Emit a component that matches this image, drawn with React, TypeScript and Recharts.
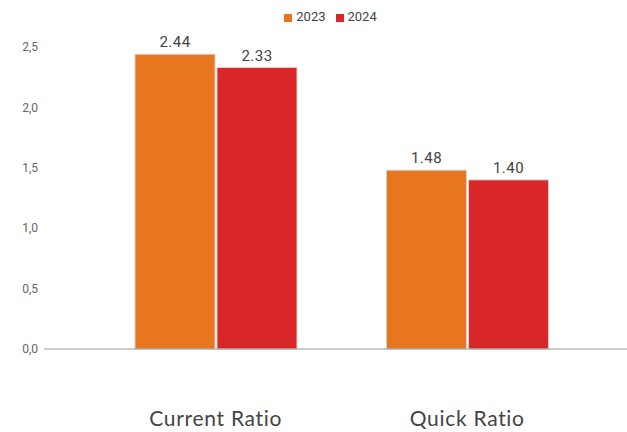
import React from "react";
import { BarChart, Bar, XAxis, YAxis, Legend, LabelList } from "recharts";

const categories = ["Current Ratio", "Quick Ratio"];
const values2023 = [2.44, 1.48];
const values2024 = [2.33, 1.4];
const yTicks = [0, 0.5, 1, 1.5, 2, 2.5];

const data = categories.map((name, i) => ({
  name,
  y2023: values2023[i],
  y2024: values2024[i],
}));

const fmtAxis = (v: number) => v.toFixed(1).replace(".", ",");
const fmtLabel = (v: any) => Number(v).toFixed(2);

const App: React.FC = () => {
  return (
    <div style={{ position: "absolute", left: 0, top: 0, width: 627, height: 432, background: "#fff" }}>
      <BarChart
        width={627}
        height={432}
        data={data}
        margin={{ top: 20, right: 0, bottom: 0, left: 0 }}
        barSize={80}
        barGap={2}
      >
        <Legend
          verticalAlign="top"
          align="center"
          iconType="square"
          iconSize={8}
          height={27}
          wrapperStyle={{ top: 9, left: 0, width: 627, fontFamily: "Roboto, sans-serif", fontSize: 13, color: "#444", paddingLeft: 22 }}
          formatter={(value: string) => <span style={{ color: "#444" }}>{value}</span>}
        />
        <XAxis
          dataKey="name"
          height={83}
          padding={{ left: 46, right: 34 }}
          tickLine={false}
          axisLine={{ stroke: "#999", strokeWidth: 1 }}
          tickMargin={56}
          tick={{ fontFamily: "Lato, sans-serif", fontSize: 21, fill: "#444", letterSpacing: 0.7 }}
        />
        <YAxis
          width={44}
          domain={[0, 2.5]}
          ticks={yTicks}
          tickFormatter={fmtAxis}
          axisLine={false}
          tickLine={false}
          tickSize={4}
          tick={{ fontFamily: "Roboto, sans-serif", fontSize: 12, fill: "#666" }}
        />
        <Bar dataKey="y2023" name="2023" fill="#E8761F" stroke="#D8D0C8" strokeWidth={1} isAnimationActive={false}>
          <LabelList
            dataKey="y2023"
            position="top"
            offset={7}
            formatter={fmtLabel}
            style={{ fontFamily: "Roboto, sans-serif", fontSize: 15, fill: "#444", letterSpacing: 0.5 }}
          />
        </Bar>
        <Bar dataKey="y2024" name="2024" fill="#D92629" stroke="#D8D0C8" strokeWidth={1} isAnimationActive={false}>
          <LabelList
            dataKey="y2024"
            position="top"
            offset={7}
            formatter={fmtLabel}
            style={{ fontFamily: "Roboto, sans-serif", fontSize: 15, fill: "#444", letterSpacing: 0.5 }}
          />
        </Bar>
      </BarChart>
    </div>
  );
};

export default App;
